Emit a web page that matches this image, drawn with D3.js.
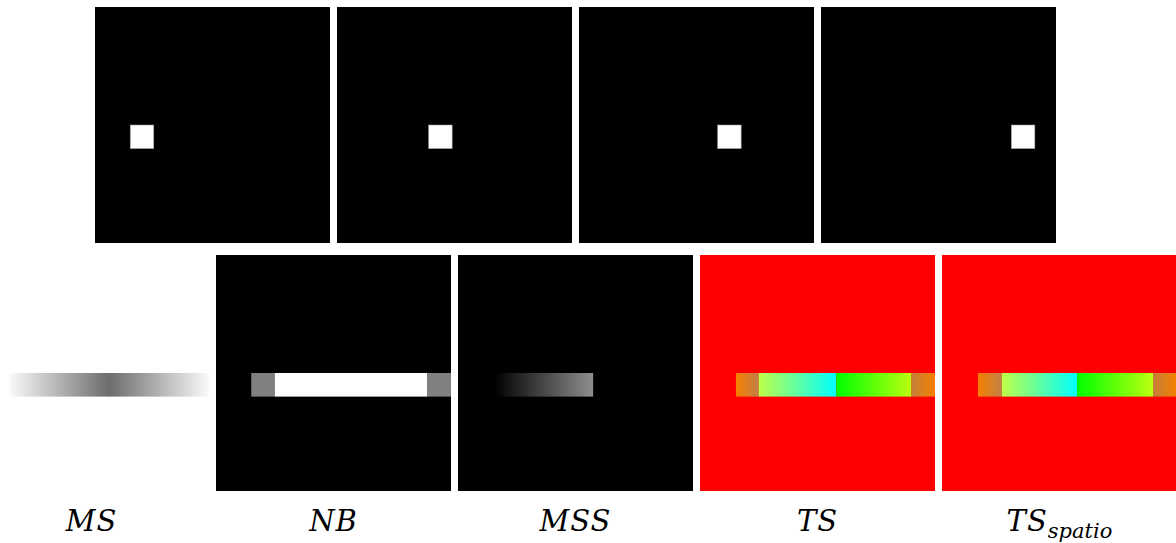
<!DOCTYPE html>
<html>
<head>
<meta charset="utf-8">
<script src="https://cdn.jsdelivr.net/npm/d3@7"></script>
<style>
  html, body { margin: 0; padding: 0; background: #ffffff; }
  svg { display: block; }
  .lab { font-family: "DejaVu Serif"; font-style: italic; }
</style>
</head>
<body>
<svg id="chart" width="1176" height="543"></svg>
<script>
// ---- data (grid units: each frame is 10 x 10 cells) ----
const frameNames = ["t1", "t2", "t3", "t4"];
const squareX = [1.5, 3.9, 5.9, 8.1];
const squareY = 5;
const squareSize = 1;

const methodLabels = ["MS", "NB", "MSS", "TS", "TS_spatio"];
const methodBackgrounds = ["#ffffff", "#000000", "#000000", "#ff0000", "#ff0000"];
const barY = 5;

// segments of the bar for each method: [start, end, list of colour stops]
const msSegments  = [[1.5, 10, ["#fafafa", "#6c6c6c", "#fafafa"]]];
const nbSegments  = [[1.5, 2.5, ["#808080", "#808080"]], [2.5, 9.0, ["#ffffff", "#ffffff"]], [9.0, 10, ["#808080", "#808080"]]];
const mssSegments = [[1.55, 5.75, ["#000000", "#8e8e8e"]]];
const tsSegments  = [[1.53, 2.5, ["#f58000", "#c28048"]], [2.5, 5.8, ["#bfff48", "#00ffff"]], [5.8, 9.0, ["#00ff00", "#bcff10"]], [9.0, 10, ["#c47f3a", "#f58000"]]];
const tssSegments = [[1.53, 2.55, ["#f58000", "#c28048"]], [2.55, 5.75, ["#bfff48", "#00ffff"]], [5.75, 8.98, ["#00ff00", "#bcff10"]], [8.98, 10, ["#c47f3a", "#f58000"]]];
const allSegments = [msSegments, nbSegments, mssSegments, tsSegments, tssSegments];

// ---- layout ----
const svg = d3.select("#chart");
const panelW = 235, panelH = 236, step = 242;
const topX0 = 95, topY0 = 7;
const botX0 = -26, botY0 = 255;
const x = d3.scaleLinear().domain([0, 10]).range([0, panelW]);
const y = d3.scaleLinear().domain([0, 10]).range([0, panelH]);

const defs = svg.append("defs");

// top row: four frames with moving square
const topG = svg.selectAll("g.frame").data(frameNames).join("g")
  .attr("class", "frame")
  .attr("transform", (d, i) => `translate(${topX0 + i * step},${topY0})`);
topG.append("rect").attr("width", panelW).attr("height", panelH).attr("fill", "#000");
topG.append("rect")
  .attr("x", (d, i) => x(squareX[i]))
  .attr("y", y(squareY))
  .attr("width", x(squareSize) - x(0))
  .attr("height", y(squareSize) - y(0))
  .attr("fill", "#ffffff")
  .attr("stroke", "#9a9a9a").attr("stroke-width", 0.6);

// bottom row: method results
const botG = svg.selectAll("g.method").data(methodLabels).join("g")
  .attr("class", "method")
  .attr("transform", (d, i) => `translate(${botX0 + i * step},${botY0})`);
botG.append("rect").attr("width", panelW).attr("height", panelH)
  .attr("fill", (d, i) => methodBackgrounds[i]);

botG.each(function(d, i) {
  const g = d3.select(this);
  allSegments[i].forEach((s, j) => {
    const id = `grad-${i}-${j}`;
    const lg = defs.append("linearGradient").attr("id", id)
      .attr("x1", "0%").attr("x2", "100%").attr("y1", "0%").attr("y2", "0%");
    const stops = s[2];
    stops.forEach((c, k) => {
      lg.append("stop").attr("offset", (100 * k / (stops.length - 1)) + "%").attr("stop-color", c);
    });
    g.append("rect")
      .attr("x", x(s[0]))
      .attr("y", y(barY))
      .attr("width", x(s[1]) - x(s[0]))
      .attr("height", y(barY + 1) - y(barY))
      .attr("fill", `url(#${id})`);
  });
});

// labels
const labelG = svg.append("g");
methodLabels.forEach((lab, i) => {
  const parts = lab.split("_");
  const t = labelG.append("text")
    .attr("class", "lab")
    .attr("x", botX0 + i * step + panelW / 2)
    .attr("y", 531)
    .attr("text-anchor", "middle")
    .attr("font-size", 29)
    .attr("fill", "#000");
  t.append("tspan").attr("letter-spacing", 1).text(parts[0]);
  if (parts[1]) {
    t.append("tspan").attr("font-size", 21).attr("dy", 7).text(parts[1]);
  }
});
</script>
</body>
</html>
